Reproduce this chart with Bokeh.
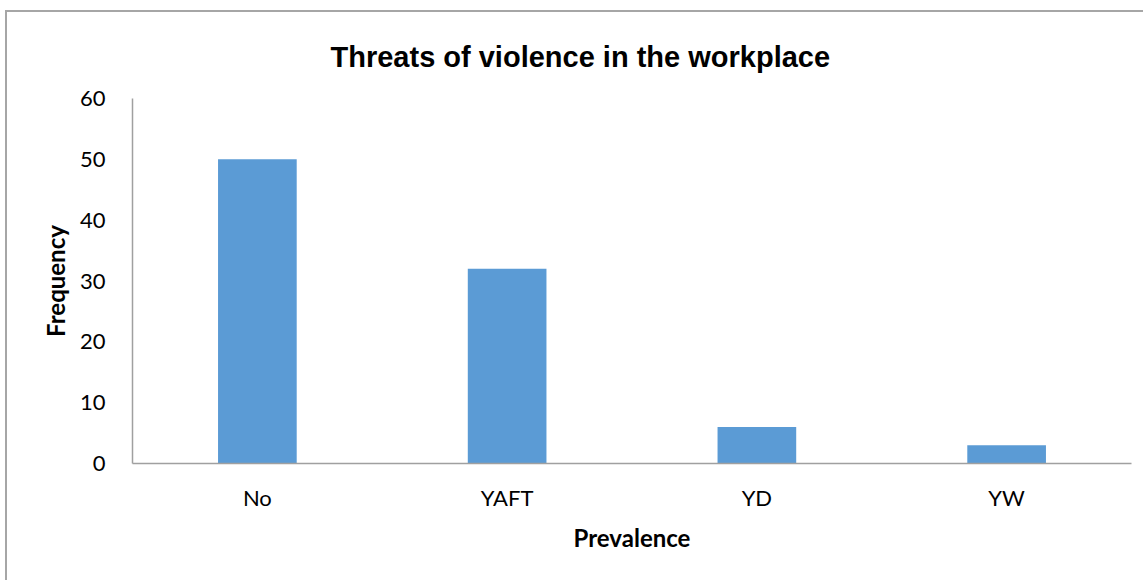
from bokeh.plotting import figure
from bokeh.models import FactorRange, Range1d, FixedTicker
from bokeh.embed import file_html
from bokeh.resources import INLINE

categories = ["No", "YAFT", "YD", "YW"]
frequency = [50, 32, 6, 3]
y_ticks = [0, 10, 20, 30, 40, 50, 60]

p = figure(
    x_range=FactorRange(*categories, range_padding=0),
    y_range=Range1d(0, 60),
    width=1138, height=570,
    output_backend="svg", toolbar_location=None,
    min_border_left=125, min_border_right=14,
    min_border_top=86, min_border_bottom=119,
    margin=(10, 0, 0, 5),
)
p.styles = {"border-top": "2px solid #a6a6a6", "border-left": "2px solid #a6a6a6"}

p.vbar(x=categories, top=frequency, width=0.315, color="#5B9BD5", line_color=None)

p.title.text = "Threats of violence in the workplace"
p.title.text_font = "Liberation Sans"
p.title.text_font_size = "29px"
p.title.text_font_style = "bold"
p.title.text_color = "#000000"
p.title.align = "left"
p.title.vertical_align = "top"
p.title.offset = 198
p.title.standoff = 48

p.outline_line_color = None
p.xgrid.grid_line_color = None
p.ygrid.grid_line_color = None

for ax in (p.xaxis, p.yaxis):
    ax.axis_line_color = "#a0a0a0"
    ax.axis_line_width = 1.5
    ax.major_tick_line_color = None
    ax.minor_tick_line_color = None
    ax.major_label_text_font = "Lato"
    ax.major_label_text_font_size = "22px"
    ax.major_label_text_color = "#000000"
    ax.axis_label_text_font = "Lato"
    ax.axis_label_text_font_size = "24px"
    ax.axis_label_text_font_style = "bold"
    ax.axis_label_text_color = "#000000"

p.yaxis.ticker = FixedTicker(ticks=y_ticks)
p.yaxis.major_label_standoff = 21
p.yaxis.axis_label = "Frequency"
p.yaxis.axis_label_standoff = 7

p.xaxis.major_label_standoff = 14
p.xaxis.axis_label = "Prevalence"
p.xaxis.axis_label_standoff = 9

open("out.html", "w").write(file_html(p, INLINE))
